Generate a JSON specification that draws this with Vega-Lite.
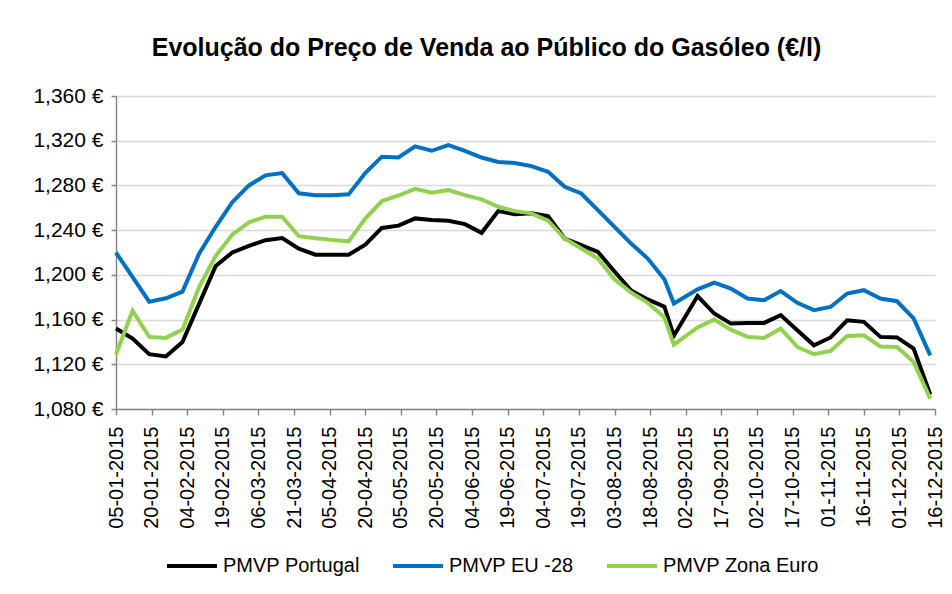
{
  "$schema": "https://vega.github.io/schema/vega-lite/v6.json",
  "width": 819,
  "height": 313,
  "autosize": {"type": "none"},
  "padding": {"left": 116, "top": 96, "right": 17, "bottom": 185},
  "background": "white",
  "config": {
    "font": "Liberation Sans",
    "view": {"stroke": null}
  },
  "title": {
    "text": "Evolução do Preço de Venda ao Público do Gasóleo (€/l)",
    "fontSize": 25,
    "fontWeight": "bold",
    "color": "#000000",
    "anchor": "middle",
    "dx": -39,
    "offset": 24
  },
  "data": {
    "values": [
      {"date": "2015-01-05", "PMVP Portugal": 1.152, "PMVP EU -28": 1.220, "PMVP Zona Euro": 1.129},
      {"date": "2015-01-12", "PMVP Portugal": 1.143, "PMVP EU -28": 1.198, "PMVP Zona Euro": 1.168},
      {"date": "2015-01-19", "PMVP Portugal": 1.129, "PMVP EU -28": 1.176, "PMVP Zona Euro": 1.1445},
      {"date": "2015-01-26", "PMVP Portugal": 1.127, "PMVP EU -28": 1.179, "PMVP Zona Euro": 1.1436},
      {"date": "2015-02-02", "PMVP Portugal": 1.140, "PMVP EU -28": 1.185, "PMVP Zona Euro": 1.151},
      {"date": "2015-02-09", "PMVP Portugal": 1.174, "PMVP EU -28": 1.219, "PMVP Zona Euro": 1.189},
      {"date": "2015-02-16", "PMVP Portugal": 1.208, "PMVP EU -28": 1.243, "PMVP Zona Euro": 1.217},
      {"date": "2015-02-23", "PMVP Portugal": 1.220, "PMVP EU -28": 1.265, "PMVP Zona Euro": 1.236},
      {"date": "2015-03-02", "PMVP Portugal": 1.226, "PMVP EU -28": 1.280, "PMVP Zona Euro": 1.247},
      {"date": "2015-03-09", "PMVP Portugal": 1.231, "PMVP EU -28": 1.289, "PMVP Zona Euro": 1.252},
      {"date": "2015-03-16", "PMVP Portugal": 1.233, "PMVP EU -28": 1.291, "PMVP Zona Euro": 1.252},
      {"date": "2015-03-23", "PMVP Portugal": 1.2235, "PMVP EU -28": 1.273, "PMVP Zona Euro": 1.2346},
      {"date": "2015-03-30", "PMVP Portugal": 1.218, "PMVP EU -28": 1.2713, "PMVP Zona Euro": 1.2328},
      {"date": "2015-04-06", "PMVP Portugal": 1.218, "PMVP EU -28": 1.2713, "PMVP Zona Euro": 1.2313},
      {"date": "2015-04-13", "PMVP Portugal": 1.218, "PMVP EU -28": 1.272, "PMVP Zona Euro": 1.230},
      {"date": "2015-04-20", "PMVP Portugal": 1.227, "PMVP EU -28": 1.291, "PMVP Zona Euro": 1.2504},
      {"date": "2015-04-27", "PMVP Portugal": 1.242, "PMVP EU -28": 1.3057, "PMVP Zona Euro": 1.266},
      {"date": "2015-05-04", "PMVP Portugal": 1.244, "PMVP EU -28": 1.305, "PMVP Zona Euro": 1.271},
      {"date": "2015-05-11", "PMVP Portugal": 1.2505, "PMVP EU -28": 1.315, "PMVP Zona Euro": 1.277},
      {"date": "2015-05-18", "PMVP Portugal": 1.249, "PMVP EU -28": 1.311, "PMVP Zona Euro": 1.2734},
      {"date": "2015-05-25", "PMVP Portugal": 1.2484, "PMVP EU -28": 1.316, "PMVP Zona Euro": 1.2758},
      {"date": "2015-06-01", "PMVP Portugal": 1.2454, "PMVP EU -28": 1.311, "PMVP Zona Euro": 1.2713},
      {"date": "2015-06-08", "PMVP Portugal": 1.2376, "PMVP EU -28": 1.305, "PMVP Zona Euro": 1.2675},
      {"date": "2015-06-15", "PMVP Portugal": 1.257, "PMVP EU -28": 1.301, "PMVP Zona Euro": 1.2609},
      {"date": "2015-06-22", "PMVP Portugal": 1.2543, "PMVP EU -28": 1.300, "PMVP Zona Euro": 1.257},
      {"date": "2015-06-29", "PMVP Portugal": 1.255, "PMVP EU -28": 1.2973, "PMVP Zona Euro": 1.255},
      {"date": "2015-07-06", "PMVP Portugal": 1.2525, "PMVP EU -28": 1.2922, "PMVP Zona Euro": 1.2484},
      {"date": "2015-07-13", "PMVP Portugal": 1.2325, "PMVP EU -28": 1.2788, "PMVP Zona Euro": 1.2325},
      {"date": "2015-07-20", "PMVP Portugal": 1.2266, "PMVP EU -28": 1.2728, "PMVP Zona Euro": 1.2236},
      {"date": "2015-07-27", "PMVP Portugal": 1.2206, "PMVP EU -28": 1.2579, "PMVP Zona Euro": 1.2146},
      {"date": "2015-08-03", "PMVP Portugal": 1.203, "PMVP EU -28": 1.243, "PMVP Zona Euro": 1.196},
      {"date": "2015-08-10", "PMVP Portugal": 1.186, "PMVP EU -28": 1.228, "PMVP Zona Euro": 1.1842},
      {"date": "2015-08-17", "PMVP Portugal": 1.178, "PMVP EU -28": 1.2146, "PMVP Zona Euro": 1.175},
      {"date": "2015-08-24", "PMVP Portugal": 1.1715, "PMVP EU -28": 1.196, "PMVP Zona Euro": 1.162},
      {"date": "2015-08-28", "PMVP Portugal": 1.1455, "PMVP EU -28": 1.1743, "PMVP Zona Euro": 1.1375},
      {"date": "2015-09-07", "PMVP Portugal": 1.181, "PMVP EU -28": 1.187, "PMVP Zona Euro": 1.153},
      {"date": "2015-09-14", "PMVP Portugal": 1.1654, "PMVP EU -28": 1.193, "PMVP Zona Euro": 1.160},
      {"date": "2015-09-21", "PMVP Portugal": 1.1564, "PMVP EU -28": 1.1878, "PMVP Zona Euro": 1.151},
      {"date": "2015-09-28", "PMVP Portugal": 1.157, "PMVP EU -28": 1.1788, "PMVP Zona Euro": 1.1445},
      {"date": "2015-10-05", "PMVP Portugal": 1.157, "PMVP EU -28": 1.1773, "PMVP Zona Euro": 1.1436},
      {"date": "2015-10-12", "PMVP Portugal": 1.164, "PMVP EU -28": 1.1855, "PMVP Zona Euro": 1.152},
      {"date": "2015-10-19", "PMVP Portugal": 1.1504, "PMVP EU -28": 1.175, "PMVP Zona Euro": 1.1355},
      {"date": "2015-10-26", "PMVP Portugal": 1.137, "PMVP EU -28": 1.1684, "PMVP Zona Euro": 1.129},
      {"date": "2015-11-02", "PMVP Portugal": 1.144, "PMVP EU -28": 1.1713, "PMVP Zona Euro": 1.132},
      {"date": "2015-11-09", "PMVP Portugal": 1.1594, "PMVP EU -28": 1.1833, "PMVP Zona Euro": 1.1454},
      {"date": "2015-11-16", "PMVP Portugal": 1.158, "PMVP EU -28": 1.1863, "PMVP Zona Euro": 1.146},
      {"date": "2015-11-23", "PMVP Portugal": 1.1445, "PMVP EU -28": 1.1788, "PMVP Zona Euro": 1.136},
      {"date": "2015-11-30", "PMVP Portugal": 1.144, "PMVP EU -28": 1.1764, "PMVP Zona Euro": 1.1355},
      {"date": "2015-12-07", "PMVP Portugal": 1.134, "PMVP EU -28": 1.161, "PMVP Zona Euro": 1.122},
      {"date": "2015-12-14", "PMVP Portugal": 1.093, "PMVP EU -28": 1.128, "PMVP Zona Euro": 1.0893}
    ]
  },
  "transform": [
    {"fold": ["PMVP Portugal", "PMVP EU -28", "PMVP Zona Euro"], "as": ["serie", "valor"]}
  ],
  "mark": {"type": "line", "strokeWidth": 4, "strokeJoin": "miter", "clip": false},
  "encoding": {
    "x": {
      "field": "date",
      "type": "temporal",
      "scale": {
        "type": "utc",
        "domain": [
          {"year": 2015, "month": 1, "date": 5, "utc": true},
          {"year": 2015, "month": 12, "date": 16, "utc": true}
        ]
      },
      "axis": {
        "title": null,
        "labelExpr": "utcFormat(datum.value, '%d-%m-%Y')",
        "values": [
          {"year": 2015, "month": 1, "date": 5, "utc": true},
          {"year": 2015, "month": 1, "date": 20, "utc": true},
          {"year": 2015, "month": 2, "date": 4, "utc": true},
          {"year": 2015, "month": 2, "date": 19, "utc": true},
          {"year": 2015, "month": 3, "date": 6, "utc": true},
          {"year": 2015, "month": 3, "date": 21, "utc": true},
          {"year": 2015, "month": 4, "date": 5, "utc": true},
          {"year": 2015, "month": 4, "date": 20, "utc": true},
          {"year": 2015, "month": 5, "date": 5, "utc": true},
          {"year": 2015, "month": 5, "date": 20, "utc": true},
          {"year": 2015, "month": 6, "date": 4, "utc": true},
          {"year": 2015, "month": 6, "date": 19, "utc": true},
          {"year": 2015, "month": 7, "date": 4, "utc": true},
          {"year": 2015, "month": 7, "date": 19, "utc": true},
          {"year": 2015, "month": 8, "date": 3, "utc": true},
          {"year": 2015, "month": 8, "date": 18, "utc": true},
          {"year": 2015, "month": 9, "date": 2, "utc": true},
          {"year": 2015, "month": 9, "date": 17, "utc": true},
          {"year": 2015, "month": 10, "date": 2, "utc": true},
          {"year": 2015, "month": 10, "date": 17, "utc": true},
          {"year": 2015, "month": 11, "date": 1, "utc": true},
          {"year": 2015, "month": 11, "date": 16, "utc": true},
          {"year": 2015, "month": 12, "date": 1, "utc": true},
          {"year": 2015, "month": 12, "date": 16, "utc": true}
        ],
        "labelAngle": 270,
        "labelAlign": "right",
        "labelBaseline": "middle",
        "labelFontSize": 20,
        "labelColor": "#000000",
        "labelPadding": 11,
        "labelOverlap": false,
        "labelFlush": false,
        "grid": false,
        "domainColor": "#868686",
        "domainWidth": 1.5,
        "tickColor": "#868686",
        "tickWidth": 1.5,
        "tickSize": 6
      }
    },
    "y": {
      "field": "valor",
      "type": "quantitative",
      "scale": {"domain": [1.08, 1.36], "zero": false, "nice": false},
      "axis": {
        "title": null,
        "values": [1.08, 1.12, 1.16, 1.2, 1.24, 1.28, 1.32, 1.36],
        "labelExpr": "replace(format(datum.value, '.3f'), '.', ',') + ' €'",
        "labelFontSize": 21,
        "labelColor": "#000000",
        "labelPadding": 8,
        "grid": true,
        "gridColor": "#D9D9D9",
        "gridWidth": 1.5,
        "domainColor": "#868686",
        "domainWidth": 1.5,
        "tickColor": "#868686",
        "tickWidth": 1.5,
        "tickSize": 5
      }
    },
    "color": {
      "field": "serie",
      "type": "nominal",
      "scale": {
        "domain": ["PMVP Portugal", "PMVP EU -28", "PMVP Zona Euro"],
        "range": ["#000000", "#0070C0", "#92D050"]
      },
      "legend": {
        "title": null,
        "orient": "none",
        "direction": "horizontal",
        "legendX": 49,
        "legendY": 443,
        "symbolType": "stroke",
        "symbolSize": 2500,
        "symbolStrokeWidth": 4,
        "labelFontSize": 20,
        "labelColor": "#000000",
        "labelOffset": 4,
        "columnPadding": 25,
        "labelLimit": 300
      }
    }
  }
}
